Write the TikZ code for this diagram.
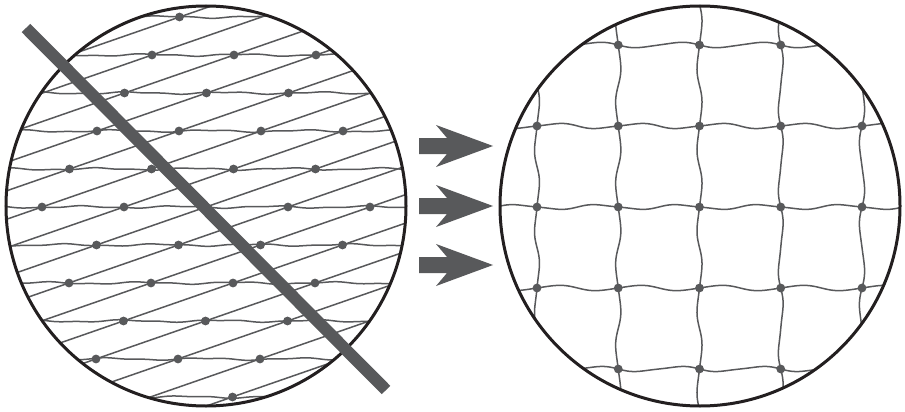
\documentclass[tikz,border=0pt]{standalone}
\definecolor{gridgray}{RGB}{88,89,91}
\definecolor{rimblack}{RGB}{35,31,32}
\begin{document}
\begin{tikzpicture}[x=1pt,y=-1pt,
  gridline/.style={draw=gridgray, line width=1.5pt},
  rim/.style={draw=rimblack, line width=3pt},
  dotmark/.style={fill=gridgray},
  crossbar/.style={draw=gridgray, line width=12pt},
  blockarrow/.style={fill=gridgray}]
\useasboundingbox[fill=white] (0,0) rectangle (905,412);

% ---------- left: sheared lattice ----------
\begin{scope}
  \clip (206,206) circle[radius=200pt];
  \foreach \u in {-8,...,12}{
    \draw[gridline] ({42+82*\u+611},-5) -- ({42+82*\u-614},420);
  }
  \foreach \j/\p in {-5/10,-4/75,-3/140,-2/200,-1/260,0/320,1/30,2/95,3/160,4/220,5/290}{
    \draw[gridline] plot[smooth, domain=0:412, samples=70]
      (\x, {207+38*\j + 0.9*sin(\x/95*360+\p) + 0.45*sin(\x/41*360+2*\p)});
  }
  \foreach \j/\ulist in {-5/{0},-4/{0,1,2},-3/{0,1,2},-2/{0,1,2,3},-1/{0,1,2,3},
                         0/{0,1,2,3,4},1/{1,2,3,4},2/{1,2,3,4},3/{2,3,4},4/{2,3,4},5/{4}}{
    \foreach \u in \ulist{
      \fill[dotmark] ({42+82*\u-27.5*\j},{207+38*\j}) circle[radius=4.4pt];
    }
  }
\end{scope}
\draw[rim] (206,206) circle[radius=200pt];
\draw[crossbar] (26,28) -- (386,390);

% ---------- arrows ----------
\foreach \cy in {146,206,265}{
  \fill[blockarrow] (419,\cy-8) -- (447,\cy-8) -- (436,\cy-21) -- (493,\cy)
    -- (436,\cy+21) -- (447,\cy+8) -- (419,\cy+8) -- cycle;
}

% ---------- right: square lattice ----------
\begin{scope}
  \clip (700,206) circle[radius=200pt];
  \foreach \yy/\a/\b in {45/2.6/0.4,126/-2.4/0.5,207/2.2/-0.5,288/-2.6/0.3,369/2.4/0.5}{
    \draw[gridline] plot[smooth, domain=495:905, samples=84]
      (\x, {\yy + \a*sin((\x-537)/81.25*360) + \b*sin((\x-537)/81.25*720)});
  }
  \foreach \xx/\a/\b in {537/-2.3/0.5,618.25/2.5/-0.4,699.5/-2.4/0.4,780.75/2.2/0.5,862/-2.5/-0.4}{
    \draw[gridline] plot[smooth, domain=0:412, samples=84]
      ({\xx + \a*sin((\x-45)/81*360) + \b*sin((\x-45)/81*720)}, \x);
  }
  \foreach \yy/\clist in {45/{1,2,3},126/{0,1,2,3,4},207/{0,1,2,3,4},288/{0,1,2,3,4},369/{1,2,3}}{
    \foreach \c in \clist{
      \fill[dotmark] ({537+81.25*\c},\yy) circle[radius=4.4pt];
    }
  }
\end{scope}
\draw[rim] (700,206) circle[radius=200pt];
\end{tikzpicture}
\end{document}
